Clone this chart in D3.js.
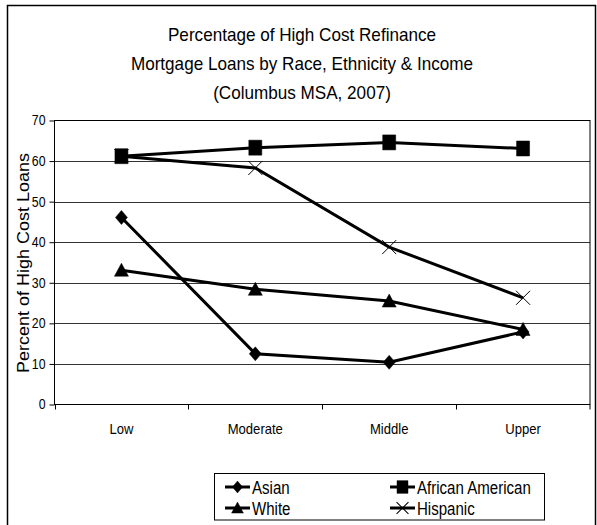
<!doctype html>
<html lang="en">
<head>
    <meta charset="utf-8">
    <title>High Cost Refinance Loans</title>
    <script src="https://cdnjs.cloudflare.com/ajax/libs/d3/7.8.5/d3.min.js"></script>
    <style>
        body { margin: 0; background: #fff; }
        svg text { font-family: "Liberation Sans", Arial, sans-serif; fill: #000; }
        .grid line { stroke: #333; stroke-width: 1; }
        .series path.line { fill: none; stroke: #000; stroke-width: 3; }
    </style>
</head>
<body>
    <div id="chart"></div>
    <script>

        // chart data
        var categories = ["Low", "Moderate", "Middle", "Upper"];
        var asian = [46.1, 12.5, 10.4, 17.9];
        var africanAmerican = [61.2, 63.3, 64.6, 63.1];
        var white = [33.1, 28.4, 25.5, 18.5];
        var hispanic = [61.2, 58.3, 38.8, 26.3];
        var yTicks = [0, 10, 20, 30, 40, 50, 60, 70];
        var titleLines = [
            "Percentage of High Cost Refinance",
            "Mortgage Loans by Race, Ethnicity & Income",
            "(Columbus MSA, 2007)"
        ];

        var series = [
            { name: "Asian", values: asian, symbol: "diamond" },
            { name: "African American", values: africanAmerican, symbol: "square" },
            { name: "White", values: white, symbol: "triangle" },
            { name: "Hispanic", values: hispanic, symbol: "cross" }
        ];

        var width = 597, height = 525;
        var plot = { left: 54.5, top: 120.5, right: 590, bottom: 404.5 };

        // the reference font is a bit narrow, so squeeze text to its measured width
        function squeeze(sel, ratio) {
            sel.each(function() {
                var w = this.getComputedTextLength();
                d3.select(this)
                    .attr("textLength", w * ratio)
                    .attr("lengthAdjust", "spacingAndGlyphs");
            });
        }

        var svg = d3.select("#chart")
            .append("svg")
              .attr("width", width)
              .attr("height", height);

        // outer frame (bottom edge falls off the picture)
        svg.append("rect")
            .attr("x", 7.5).attr("y", 5.5)
            .attr("width", 588).attr("height", 540)
            .attr("fill", "none").attr("stroke", "#000").attr("stroke-width", 1.5);

        // title
        svg.append("g").selectAll("text")
            .data(titleLines)
            .enter()
            .append("text")
              .attr("x", 302)
              .attr("y", function(d, i) { return 41 + i * 29; })
              .attr("text-anchor", "middle")
              .style("font-size", "19px")
              .text(function(d) { return d; })
              .call(squeeze, 0.9);

        var xScale = d3.scaleBand()
            .domain(categories)
            .range([plot.left, plot.right]);

        var yScale = d3.scaleLinear()
            .domain([0, 70])
            .range([plot.bottom, plot.top]);

        // gridlines
        svg.append("g")
            .attr("class", "grid")
            .selectAll("line")
            .data(yTicks.slice(1, -1))
            .enter()
            .append("line")
              .attr("x1", plot.left).attr("x2", plot.right)
              .attr("y1", function(d) { return Math.round(yScale(d)) + 0.5; })
              .attr("y2", function(d) { return Math.round(yScale(d)) + 0.5; });

        // plot frame
        svg.append("rect")
            .attr("x", plot.left).attr("y", plot.top)
            .attr("width", plot.right - plot.left)
            .attr("height", plot.bottom - plot.top)
            .attr("fill", "none").attr("stroke", "#000").attr("stroke-width", 1);

        // y axis
        var yAxis = d3.axisLeft(yScale).tickValues(yTicks).tickSize(5).tickPadding(4);
        var gy = svg.append("g")
            .attr("transform", "translate(" + plot.left + ",0)")
            .call(yAxis);
        gy.select(".domain").remove();
        gy.selectAll("text").style("font-size", "14px").attr("font-family", null)
            .call(squeeze, 0.88);

        // x axis: ticks between categories, labels below
        svg.append("line")
            .attr("x1", plot.left).attr("x2", plot.right)
            .attr("y1", plot.bottom).attr("y2", plot.bottom)
            .attr("stroke", "#000");
        svg.append("g").selectAll("line")
            .data(categories)
            .enter()
            .append("line")
              .attr("x1", function(d) { return Math.round(xScale(d)) + 0.5; })
              .attr("x2", function(d) { return Math.round(xScale(d)) + 0.5; })
              .attr("y1", plot.bottom).attr("y2", plot.bottom + 5)
              .attr("stroke", "#000");
        svg.append("line")
            .attr("x1", plot.right).attr("x2", plot.right)
            .attr("y1", plot.bottom).attr("y2", plot.bottom + 5)
            .attr("stroke", "#000");
        svg.append("g").selectAll("text")
            .data(categories)
            .enter()
            .append("text")
              .attr("x", function(d) { return xScale(d) + xScale.bandwidth() / 2; })
              .attr("y", 434)
              .attr("text-anchor", "middle")
              .style("font-size", "14.5px")
              .text(function(d) { return d; })
              .call(squeeze, 0.9);

        // y axis title
        svg.append("text")
            .attr("transform", "translate(29," + 263 + ") rotate(-90)")
            .attr("text-anchor", "middle")
            .attr("textLength", 220)
            .attr("lengthAdjust", "spacingAndGlyphs")
            .style("font-size", "16px")
            .text("Percent of High Cost Loans");

        function symbolPath(kind) {
            if (kind === "diamond") return "M0,-7L6,0L0,7L-6,0Z";
            if (kind === "square") return "M-6.5,-7.5H6.5V7.5H-6.5Z";
            if (kind === "triangle") return "M0,-7L7,6H-7Z";
            return "M-7,-7L7,7M-7,7L7,-7";
        }

        var line = d3.line()
            .x(function(d, i) { return xScale(categories[i]) + xScale.bandwidth() / 2; })
            .y(function(d) { return yScale(d); });

        // draw Hispanic first so the square of African American covers its first point
        var drawOrder = [series[3], series[0], series[2], series[1]];

        var groups = svg.append("g").selectAll("g.series")
            .data(drawOrder)
            .enter()
            .append("g")
              .attr("class", "series");

        groups.append("path")
            .attr("class", "line")
            .attr("d", function(d) { return line(d.values); });

        groups.each(function(s) {
            d3.select(this).selectAll("path.mark")
                .data(s.values)
                .enter()
                .append("path")
                  .attr("class", "mark")
                  .attr("transform", function(d, i) {
                      return "translate(" + (xScale(categories[i]) + xScale.bandwidth() / 2) + "," + yScale(d) + ")";
                  })
                  .attr("d", symbolPath(s.symbol))
                  .attr("fill", s.symbol === "cross" ? "none" : "#000")
                  .attr("stroke", "#000")
                  .attr("stroke-width", s.symbol === "cross" ? 1 : 0.5);
        });

        // legend
        var legend = svg.append("g");
        legend.append("rect")
            .attr("x", 214.5).attr("y", 473.5)
            .attr("width", 330).attr("height", 46.5)
            .attr("fill", "#fff").attr("stroke", "#000").attr("stroke-width", 1);

        var items = legend.selectAll("g.item")
            .data(series)
            .enter()
            .append("g")
              .attr("class", "item")
              .attr("transform", function(d, i) {
                  return "translate(" + (i % 2 === 0 ? 225 : 390) + "," + (i < 2 ? 487 : 508) + ")";
              });

        items.append("line")
            .attr("x1", 0).attr("x2", 25)
            .attr("stroke", "#000").attr("stroke-width", 3);
        items.append("path")
            .attr("transform", "translate(12.5,0) scale(0.85)")
            .attr("d", function(d) { return symbolPath(d.symbol); })
            .attr("fill", function(d) { return d.symbol === "cross" ? "none" : "#000"; })
            .attr("stroke", "#000")
            .attr("stroke-width", function(d) { return d.symbol === "cross" ? 1.2 : 0.5; });
        items.append("text")
            .attr("x", 27)
            .attr("y", 6.5)
            .style("font-size", "17.5px")
            .text(function(d) { return d.name; })
            .call(squeeze, 0.86);

    </script>
</body>
</html>
